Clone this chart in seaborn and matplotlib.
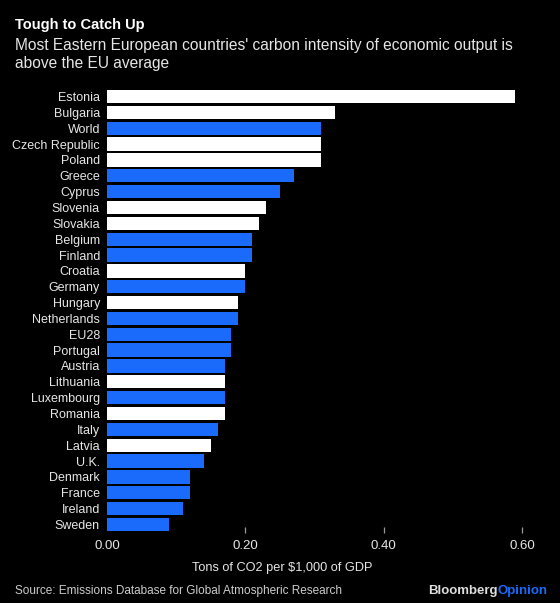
import matplotlib
matplotlib.use("Agg")
import matplotlib.pyplot as plt
import seaborn as sns
import pandas as pd

# Data
countries = ["Estonia", "Bulgaria", "World", "Czech Republic", "Poland", "Greece",
             "Cyprus", "Slovenia", "Slovakia", "Belgium", "Finland", "Croatia",
             "Germany", "Hungary", "Netherlands", "EU28", "Portugal", "Austria",
             "Lithuania", "Luxembourg", "Romania", "Italy", "Latvia", "U.K.",
             "Denmark", "France", "Ireland", "Sweden"]
intensity = [0.59, 0.33, 0.31, 0.31, 0.31, 0.27, 0.25, 0.23, 0.22, 0.21, 0.21,
             0.20, 0.20, 0.19, 0.19, 0.18, 0.18, 0.17, 0.17, 0.17, 0.17, 0.16,
             0.15, 0.14, 0.12, 0.12, 0.11, 0.09]
eastern = ["Estonia", "Bulgaria", "Czech Republic", "Poland", "Slovenia", "Slovakia",
           "Croatia", "Hungary", "Lithuania", "Romania", "Latvia"]
xticks = [0.0, 0.2, 0.4, 0.6]

df = pd.DataFrame({"country": countries, "value": intensity})
df["group"] = ["east" if c in eastern else "other" for c in countries]

BG = "black"
BLUE = "#1a6bfb"
TXT = "#e6e6e6"

sns.set_style("dark", {"axes.facecolor": BG, "figure.facecolor": BG})
plt.rcParams["font.family"] = ["Liberation Sans", "DejaVu Sans"]

fig = plt.figure(figsize=(5.6, 6.03), dpi=100, facecolor=BG)
ax = fig.add_axes([0.191, 0.1158, 0.772, 0.7386])

sns.barplot(data=df, x="value", y="country", hue="group", order=countries,
            palette={"east": "white", "other": BLUE}, dodge=False, legend=False,
            width=0.84, linewidth=0, saturation=1, ax=ax)

ax.set_xlim(0, 0.625)
ax.set_ylim(27.55, -0.55)
ax.set_xticks(xticks)
ax.set_xticklabels([f"{t:.2f}" for t in xticks])
ax.set_ylabel("")
ax.set_xlabel("Tons of CO2 per $1,000 of GDP", color=TXT, fontsize=9.2)
ax.xaxis.set_label_coords(0.405, -0.079)
ax.xaxis.label.set_va("center")
ax.tick_params(axis="x", bottom=True, colors="#9a9a9a", length=4.3, width=0.9,
               pad=5, labelcolor=TXT, labelsize=9.5, direction="in")
ax.tick_params(axis="y", length=0, pad=5, labelcolor=TXT, labelsize=9)
ax.xaxis.get_major_ticks()[0].tick1line.set_visible(False)
for s in ax.spines.values():
    s.set_visible(False)
ax.grid(False)

fig.text(0.027, 0.9585, "Tough to Catch Up", color="white", fontsize=10.5,
         fontweight="bold", va="center")
fig.text(0.027, 0.925, "Most Eastern European countries' carbon intensity of economic output is",
         color=TXT, fontsize=11.2, va="center")
fig.text(0.027, 0.8955, "above the EU average", color=TXT, fontsize=11.2, va="center")
fig.text(0.027, 0.02, "Source: Emissions Database for Global Atmospheric Research",
         color="#cccccc", fontsize=8.5, va="center")
t = fig.text(0.765, 0.02, "Bloomberg", color="#dddddd", fontsize=9.5,
             fontweight="bold", va="center")
fig.canvas.draw()
bb = t.get_window_extent()
fig.text(bb.x1 / fig.bbox.width, 0.02, "Opinion", color=BLUE, fontsize=9.5,
         fontweight="bold", va="center")

plt.savefig("out.png", dpi=100, facecolor=BG)
